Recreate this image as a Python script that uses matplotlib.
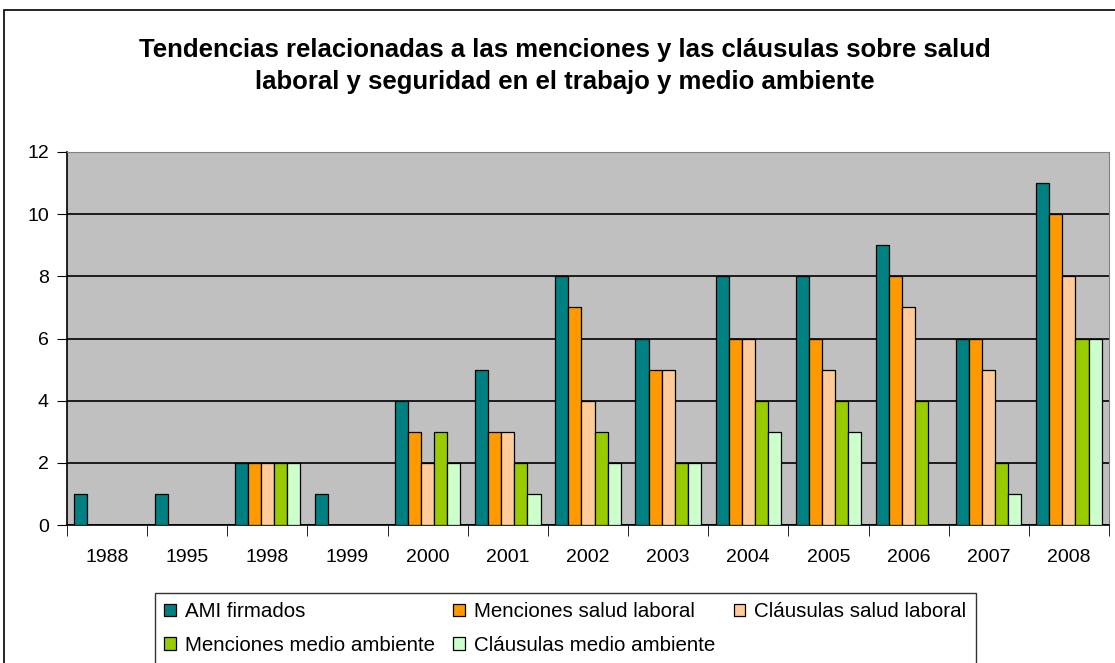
import numpy as np
import matplotlib.pyplot as plt
from matplotlib.patches import Rectangle

years = ['1988', '1995', '1998', '1999', '2000', '2001', '2002',
         '2003', '2004', '2005', '2006', '2007', '2008']
ami_firmados = [1, 1, 2, 1, 4, 5, 8, 6, 8, 8, 9, 6, 11]
menciones_salud = [0, 0, 2, 0, 3, 3, 7, 5, 6, 6, 8, 6, 10]
clausulas_salud = [0, 0, 2, 0, 2, 3, 4, 5, 6, 5, 7, 5, 8]
menciones_ambiente = [0, 0, 2, 0, 3, 2, 3, 2, 4, 4, 4, 2, 6]
clausulas_ambiente = [0, 0, 2, 0, 2, 1, 2, 2, 3, 3, 0, 1, 6]

series_names = ['AMI firmados', 'Menciones salud laboral', 'Cláusulas salud laboral',
                'Menciones medio ambiente', 'Cláusulas medio ambiente']
colors = ['#008080', '#FF9900', '#FFCC99', '#99CC00', '#CCFFCC']

plt.rcParams['font.family'] = ['Liberation Sans', 'DejaVu Sans']

fig = plt.figure(figsize=(11.15, 6.63), dpi=100)
W, H = 1115, 663
ax = fig.add_axes([67 / W, 1 - 525 / H, (1109 - 67) / W, (525 - 152) / H])

# outer chart frame
fig.patches.append(Rectangle((4 / W, -0.05), 1.1, 1 - 10 / H + 0.05,
                             transform=fig.transFigure, fill=False,
                             edgecolor='black', linewidth=1.2))

data = [ami_firmados, menciones_salud, clausulas_salud, menciones_ambiente, clausulas_ambiente]
x = np.arange(len(years))
bw = 0.163
handles = []
for i, (vals, c, name) in enumerate(zip(data, colors, series_names)):
    h = ax.bar(x + (i - 2) * bw, vals, width=bw, color=c, edgecolor='black',
               linewidth=0.9, label=name, zorder=3)
    handles.append(h)

ax.set_facecolor('#C0C0C0')
ax.set_xlim(-0.5, len(years) - 0.5)
ax.set_ylim(0, 12)
ax.set_yticks(range(0, 13, 2))
ax.yaxis.grid(True, color='black', linewidth=1.2, zorder=1)
ax.set_axisbelow(True)
ax.tick_params(axis='y', length=7, labelsize=14, direction='out', pad=6)
ax.set_xticks(x)
ax.set_xticklabels(years, fontsize=14)
ax.tick_params(axis='x', length=0, pad=17)
ax.set_xticks(np.arange(-0.5, len(years), 1), minor=True)
ax.tick_params(axis='x', which='minor', length=8, direction='out')
for s in ['top', 'right']:
    ax.spines[s].set_color('#808080')
for s in ['left', 'bottom']:
    ax.spines[s].set_color('black')
    ax.spines[s].set_linewidth(1.2)

fig.text(0.507, 1 - 50 / H, 'Tendencias relacionadas a las menciones y las cláusulas sobre salud',
         ha='center', va='center', fontsize=18.5, fontweight='bold')
fig.text(0.507, 1 - 82 / H, 'laboral y seguridad en el trabajo y medio ambiente',
         ha='center', va='center', fontsize=18.5, fontweight='bold')

order = [0, 3, 1, 4, 2]
leg = fig.legend([handles[i] for i in order], [series_names[i] for i in order],
                 ncol=3, loc='upper left', bbox_to_anchor=(155 / W, 1 - 593 / H),
                 fontsize=14.8, frameon=True, fancybox=False, edgecolor='black',
                 handlelength=0.55, handleheight=0.55, handletextpad=0.45,
                 columnspacing=0.9, labelspacing=0.7, borderpad=0.45,
                 borderaxespad=0)
leg.get_frame().set_linewidth(1.0)

fig.savefig('out.png', dpi=100, facecolor='white')
